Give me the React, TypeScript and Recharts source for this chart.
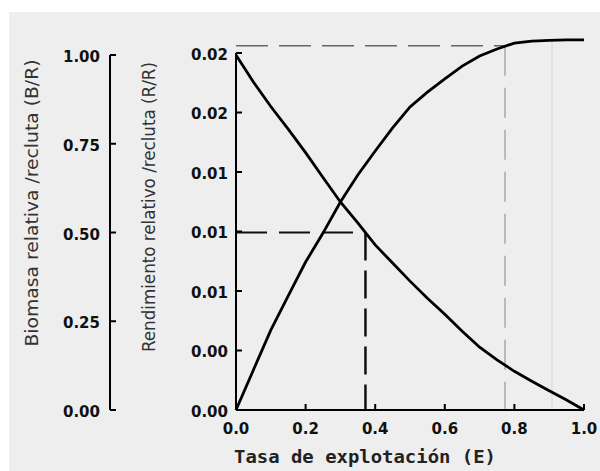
import React from "react";
import { LineChart, Line, XAxis, YAxis, ReferenceLine, Label } from "recharts";

// Tasa de explotación (E)
const explotacion = [
  0, 0.05, 0.1, 0.15, 0.2, 0.25, 0.3, 0.35, 0.4, 0.45, 0.5,
  0.55, 0.6, 0.65, 0.7, 0.75, 0.8, 0.85, 0.9, 0.95, 1.0,
];
// Biomasa relativa por recluta (eje exterior)
const biomasa = [
  1.0, 0.924, 0.855, 0.791, 0.725, 0.655, 0.586, 0.527, 0.465, 0.414, 0.363,
  0.315, 0.27, 0.222, 0.177, 0.141, 0.109, 0.081, 0.054, 0.028, 0.0,
];
// Rendimiento relativo por recluta (eje interior)
const rendimiento = [
  0, 0.00202, 0.00403, 0.00575, 0.00746, 0.00892, 0.01049, 0.01185, 0.01306, 0.01422, 0.01528,
  0.01603, 0.01669, 0.01734, 0.01785, 0.0182, 0.0185, 0.0186, 0.01864, 0.01866, 0.01866,
];

const xTicks = [0, 0.2, 0.4, 0.6, 0.8, 1.0];
const xTickLabels = ["0.0", "0.2", "0.4", "0.6", "0.8", "1.0"];
const bioTicks = [0, 0.25, 0.5, 0.75, 1.0];
const bioTickLabels = ["0.00", "0.25", "0.50", "0.75", "1.00"];
const rendTicks = [0, 0.003, 0.006, 0.009, 0.012, 0.015, 0.018];
const rendTickLabels = ["0.00", "0.00", "0.01", "0.01", "0.01", "0.02", "0.02"];

// puntos de referencia
const e50 = 0.372;
const b50 = 0.5;
const eMax = 0.773;
const yMax = 0.01837;
const e10 = 0.908;
const yTop = 0.01866;

// ids: the axis sorted first sits next to the plot
const REND = "a_rend";
const BIO = "b_bio";

const data = explotacion.map((e, i) => ({ e, b: biomasa[i], r: rendimiento[i] }));

const tickFont = { fontFamily: "DejaVu Sans", fontWeight: 700, fontSize: 15, fill: "#111" };

function leftTick(labels: string[], ticks: number[], gap: number) {
  return (p: any) => {
    const i = ticks.indexOf(p.payload.value);
    return (
      <g>
        <line x1={p.x} x2={p.x + 6} y1={p.y} y2={p.y} stroke="#000" strokeWidth={2} />
        <text x={p.x - gap} y={p.y + 7} textAnchor="end" {...tickFont}>
          {labels[i >= 0 ? i : p.index]}
        </text>
      </g>
    );
  };
}

function bottomTick(p: any) {
  const i = xTicks.indexOf(p.payload.value);
  return (
    <g>
      <line x1={p.x} x2={p.x} y1={p.y} y2={p.y - 6} stroke="#000" strokeWidth={2} />
      <text x={p.x} y={p.y + 24} textAnchor="middle" {...tickFont}>
        {xTickLabels[i >= 0 ? i : p.index]}
      </text>
    </g>
  );
}

function yTitle(text: string, dx: number, dy: number, len: number) {
  return (p: any) => {
    const vb = p.viewBox;
    const cx = vb.x + dx;
    const cy = vb.y + vb.height / 2 + dy;
    return (
      <text
        x={cx}
        y={cy}
        transform={`rotate(-90, ${cx}, ${cy})`}
        textAnchor="middle"
        dominantBaseline="central"
        textLength={len}
        lengthAdjust="spacingAndGlyphs"
        fontFamily="'DejaVu Sans Condensed', 'DejaVu Sans', sans-serif"
        fontStretch="condensed"
        fontSize={17}
        fill="#333"
      >
        {text}
      </text>
    );
  };
}

export default function App() {
  return (
    <div style={{ position: "absolute", left: 0, top: 0, width: 600, height: 471, background: "#fff" }}>
      <div style={{ position: "absolute", left: 9, top: 12, right: 0, bottom: 0, background: "#eeeeee" }} />
      <div style={{ position: "absolute", left: 0, top: 0 }}>
        <LineChart width={600} height={471} data={data} margin={{ top: 38, right: 16, bottom: 1, left: 0 }}>
          <XAxis
            dataKey="e"
            type="number"
            domain={[0, 1]}
            ticks={xTicks}
            interval={0}
            height={60}
            tickSize={0}
            tickMargin={0}
            tickLine={false}
            axisLine={{ stroke: "#000", strokeWidth: 2 }}
            tick={bottomTick}
          >
            <Label
              content={(p: any) => (
                <text
                  x={p.viewBox.x + 129}
                  y={463}
                  textAnchor="middle"
                  textLength={262}
                  lengthAdjust="spacingAndGlyphs"
                  fontFamily="'DejaVu Sans Mono', monospace"
                  fontWeight={700}
                  fontSize={18}
                  fill="#222"
                >
                  Tasa de explotación (E)
                </text>
              )}
            />
          </XAxis>
          <YAxis
            yAxisId={REND}
            type="number"
            domain={[0, 0.018756]}
            ticks={rendTicks}
            interval={0}
            width={126}
            tickSize={0}
            tickMargin={0}
            tickLine={false}
            axisLine={{ stroke: "#000", strokeWidth: 2, strokeDasharray: "0 15 1000" }}
            tick={leftTick(rendTickLabels, rendTicks, 8)}
          >
            <Label content={yTitle("Rendimiento relativo /recluta (R/R)", 39, -17, 290)} />
          </YAxis>
          <YAxis
            yAxisId={BIO}
            type="number"
            domain={[0, 1.0479]}
            ticks={bioTicks}
            interval={0}
            width={110}
            tickSize={0}
            tickMargin={0}
            tickLine={false}
            axisLine={{ stroke: "#000", strokeWidth: 2, strokeDasharray: "0 17 1000" }}
            tick={leftTick(bioTickLabels, bioTicks, 10)}
          >
            <Label content={yTitle("Biomasa relativa /recluta (B/R)", 32, -21, 287)} />
          </YAxis>

          <ReferenceLine
            yAxisId={REND}
            segment={[{ x: 0, y: yMax }, { x: eMax, y: yMax }]}
            stroke="#666"
            strokeWidth={1.5}
            strokeDasharray="32 11"
          />
          <ReferenceLine
            yAxisId={REND}
            segment={[{ x: eMax, y: yMax }, { x: eMax, y: 0 }]}
            stroke="#aaa"
            strokeWidth={1.5}
            strokeDasharray="30 12"
          />
          <ReferenceLine
            yAxisId={REND}
            segment={[{ x: e10, y: yTop }, { x: e10, y: 0 }]}
            stroke="#d4d4d4"
            strokeWidth={1}
          />
          <ReferenceLine
            yAxisId={BIO}
            segment={[{ x: 0, y: b50 }, { x: e50, y: b50 }]}
            stroke="#111"
            strokeWidth={2}
            strokeDasharray="31 12"
          />
          <ReferenceLine
            yAxisId={BIO}
            segment={[{ x: e50, y: b50 }, { x: e50, y: 0 }]}
            stroke="#111"
            strokeWidth={2.5}
            strokeDasharray="28 10"
          />

          <Line
            yAxisId={BIO}
            dataKey="b"
            type="linear"
            stroke="#000"
            strokeWidth={2.8}
            dot={false}
            isAnimationActive={false}
          />
          <Line
            yAxisId={REND}
            dataKey="r"
            type="linear"
            stroke="#000"
            strokeWidth={2.8}
            dot={false}
            isAnimationActive={false}
          />
        </LineChart>
      </div>
    </div>
  );
}
